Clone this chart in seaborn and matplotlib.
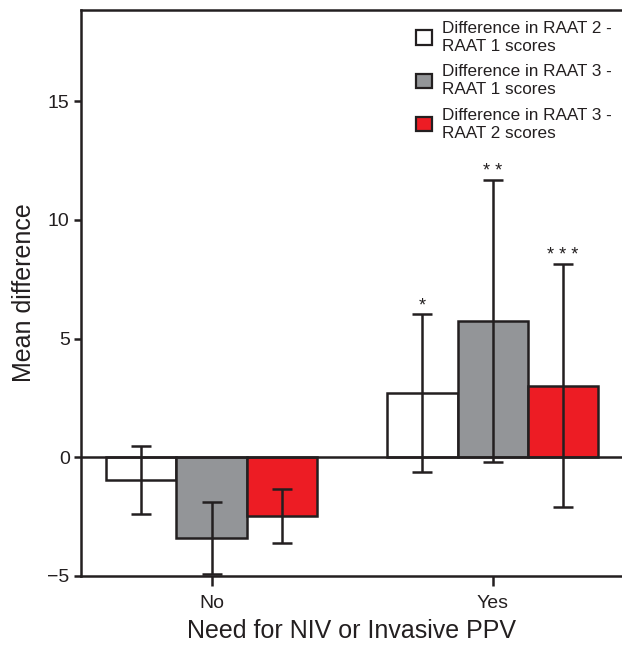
import matplotlib
matplotlib.use("Agg")
import matplotlib.pyplot as plt
from matplotlib.patches import Patch
import pandas as pd
import seaborn as sns

# groups on the x axis and the three compared differences
groups = ["No", "Yes"]
comparisons = ["Difference in RAAT 2 -\nRAAT 1 scores",
               "Difference in RAAT 3 -\nRAAT 1 scores",
               "Difference in RAAT 3 -\nRAAT 2 scores"]

# mean differences (No, Yes) for each comparison
means_21 = [-0.95, 2.70]
means_31 = [-3.40, 5.75]
means_32 = [-2.48, 3.02]

# half-width of the error bars
err_21 = [1.44, 3.32]
err_31 = [1.50, 5.93]
err_32 = [1.13, 5.13]

# significance marks over the "Yes" bars
stars = ["*", "* *", "* * *"]

colors = ["#FFFFFF", "#939598", "#ED1C24"]
edge = "#231F20"

df = pd.DataFrame({
    "need": groups * 3,
    "comparison": [c for c in comparisons for _ in groups],
    "diff": means_21 + means_31 + means_32,
})
errs = [err_21, err_31, err_32]

sns.set_style("ticks")
plt.rcParams["font.family"] = ["Liberation Sans", "DejaVu Sans"]

fig = plt.figure(figsize=(6.22, 6.45), dpi=100)
ax = fig.add_axes([0.130, 0.107, 0.870, 0.878])

sns.barplot(data=df, x="need", y="diff", hue="comparison", hue_order=comparisons,
            palette=colors, edgecolor=edge, linewidth=1.8, width=0.75,
            errorbar=None, saturation=1, legend=False, ax=ax)

bar_sets = list(ax.containers)
for i, cont in enumerate(bar_sets):
    xs = [b.get_x() + b.get_width() / 2 for b in cont]
    hs = [b.get_height() for b in cont]
    ax.errorbar(xs, hs, yerr=errs[i], fmt="none", ecolor=edge, elinewidth=1.8,
                capsize=7, capthick=1.8, zorder=4)
    # star above the "Yes" error bar
    ax.annotate(stars[i], (xs[1], hs[1] + errs[i][1]), xytext=(0, 3),
                textcoords="offset points", ha="center", va="baseline",
                fontsize=13, color=edge)

ax.axhline(0, color=edge, linewidth=1.8, zorder=3)

ax.set_xlim(-0.465, 1.46)
ax.set_ylim(-5, 18.85)
ax.set_yticks([-5, 0, 5, 10, 15])
ax.set_yticklabels(["\u22125", "0", "5", "10", "15"])
ax.set_xlabel("Need for NIV or Invasive PPV", fontsize=18, color=edge, labelpad=5)
ax.set_ylabel("Mean difference", fontsize=18, color=edge, labelpad=8)
ax.tick_params(axis="both", labelsize=14, colors=edge, width=1.8)
ax.tick_params(axis="x", length=7, pad=7)
ax.tick_params(axis="y", length=5, pad=3)

for side in ["left", "bottom", "top"]:
    ax.spines[side].set_linewidth(1.8)
    ax.spines[side].set_color(edge)
ax.spines["right"].set_visible(False)

handles = [Patch(facecolor=c, edgecolor=edge, linewidth=1.6) for c in colors]
leg = ax.legend(handles, comparisons, loc="upper left", frameon=False,
                bbox_to_anchor=(416 / 622, 1 - 21 / 645), bbox_transform=fig.transFigure,
                borderpad=0, borderaxespad=0, fontsize=12.3, handlelength=0.93,
                handleheight=0.93, handletextpad=0.6, labelspacing=0.6)
for t in leg.get_texts():
    t.set_linespacing(1.25)
    t.set_color(edge)

fig.savefig("out.png", dpi=100)
